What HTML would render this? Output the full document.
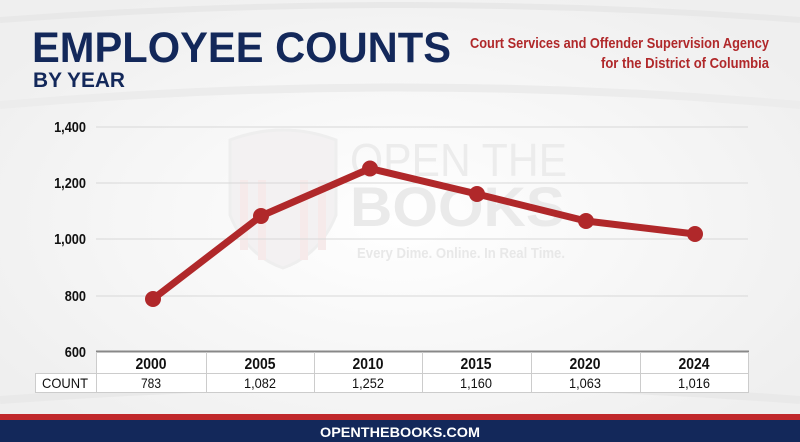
<!DOCTYPE html>
<html><head><meta charset="utf-8"><style>
html,body{margin:0;padding:0}
body{width:800px;height:442px;overflow:hidden;position:relative;background:#f6f6f6;font-family:"Liberation Sans",sans-serif}
.abs{position:absolute}
</style></head><body>
<svg class="abs" style="left:0;top:0" width="800" height="442" xmlns="http://www.w3.org/2000/svg">
<defs><radialGradient id="g" cx="50%" cy="50%" r="60%"><stop offset="0" stop-color="#ffffff"/><stop offset="1" stop-color="#efefef"/></radialGradient></defs>
<rect width="800" height="442" fill="url(#g)"/>
<path d="M0 20 Q400 -10 800 20" stroke="#e8e8e8" stroke-width="6" fill="none"/>
<path d="M0 105 Q400 70 800 105" stroke="#ececec" stroke-width="8" fill="none"/>
<path d="M0 400 Q400 370 800 400" stroke="#e9e9e9" stroke-width="8" fill="none"/>
<!-- watermark -->
<path d="M230 140 Q283 120 336 140 L336 215 Q320 255 283 268 Q246 255 230 215 Z" fill="#f3f1f2" stroke="#eeeeee" stroke-width="3"/>
<g fill="#f6eaea"><rect x="240" y="180" width="8" height="70"/><rect x="258" y="180" width="8" height="80"/><rect x="300" y="180" width="8" height="80"/><rect x="318" y="180" width="8" height="70"/></g>
<text x="350" y="176" font-family="Liberation Sans,sans-serif" font-size="46" fill="#ececec" textLength="217" lengthAdjust="spacingAndGlyphs">OPEN THE</text>
<text x="350" y="226" font-family="Liberation Sans,sans-serif" font-weight="bold" font-size="56" fill="#eaeaea" textLength="215" lengthAdjust="spacingAndGlyphs">BOOKS</text>
<text x="357" y="258" font-family="Liberation Sans,sans-serif" font-weight="bold" font-size="15" fill="#e8e8e8" textLength="208" lengthAdjust="spacingAndGlyphs">Every Dime. Online. In Real Time.</text>
<!-- grid -->
<g stroke="#d8d8d8" stroke-width="1">
<line x1="96" y1="127" x2="748" y2="127"/><line x1="96" y1="183" x2="748" y2="183"/><line x1="96" y1="239" x2="748" y2="239"/><line x1="96" y1="296" x2="748" y2="296"/>
</g>
<g font-family="Liberation Sans,sans-serif" font-weight="bold" font-size="15" fill="#111" text-anchor="end" transform="translate(86 0) scale(0.85 1) translate(-86 0)">
<text x="86" y="132">1,400</text><text x="86" y="188">1,200</text><text x="86" y="244">1,000</text><text x="86" y="301">800</text><text x="86" y="357">600</text>
</g>
<!-- table -->
<rect x="96" y="351" width="653" height="41" fill="#fff"/>
<rect x="35" y="373" width="61" height="19" fill="#fff"/>
<line x1="96" y1="351.5" x2="749" y2="351.5" stroke="#888" stroke-width="2"/>
<g stroke="#ccc" stroke-width="1" fill="none">
<line x1="35" y1="373.5" x2="749" y2="373.5"/><line x1="35" y1="392.5" x2="749" y2="392.5"/>
<line x1="35.5" y1="373" x2="35.5" y2="393"/><line x1="96.5" y1="352" x2="96.5" y2="393"/>
<line x1="206.5" y1="352" x2="206.5" y2="393"/><line x1="314.5" y1="352" x2="314.5" y2="393"/><line x1="422.5" y1="352" x2="422.5" y2="393"/><line x1="531.5" y1="352" x2="531.5" y2="393"/><line x1="640.5" y1="352" x2="640.5" y2="393"/><line x1="748.5" y1="352" x2="748.5" y2="393"/>
</g>
<g font-family="Liberation Sans,sans-serif" font-weight="bold" font-size="16" fill="#111" text-anchor="middle">
<text x="151" y="369" textLength="31" lengthAdjust="spacingAndGlyphs">2000</text><text x="260" y="369" textLength="31" lengthAdjust="spacingAndGlyphs">2005</text><text x="368" y="369" textLength="31" lengthAdjust="spacingAndGlyphs">2010</text><text x="476" y="369" textLength="31" lengthAdjust="spacingAndGlyphs">2015</text><text x="585" y="369" textLength="31" lengthAdjust="spacingAndGlyphs">2020</text><text x="694" y="369" textLength="31" lengthAdjust="spacingAndGlyphs">2024</text>
</g>
<g font-family="Liberation Sans,sans-serif" font-size="14" fill="#111" text-anchor="middle">
<text x="65" y="388" textLength="46" lengthAdjust="spacingAndGlyphs">COUNT</text>
<text x="151" y="388" textLength="20" lengthAdjust="spacingAndGlyphs">783</text><text x="260" y="388" textLength="32" lengthAdjust="spacingAndGlyphs">1,082</text><text x="368" y="388" textLength="32" lengthAdjust="spacingAndGlyphs">1,252</text><text x="476" y="388" textLength="32" lengthAdjust="spacingAndGlyphs">1,160</text><text x="585" y="388" textLength="32" lengthAdjust="spacingAndGlyphs">1,063</text><text x="694" y="388" textLength="32" lengthAdjust="spacingAndGlyphs">1,016</text>
</g>
<!-- series -->
<polyline points="153,299 261,216 370,168.5 477,194 586,221 695,234" fill="none" stroke="#b0282a" stroke-width="7" stroke-linejoin="round" stroke-linecap="round"/>
<g fill="#b0282a"><circle cx="153" cy="299" r="8"/><circle cx="261" cy="216" r="8"/><circle cx="370" cy="168.5" r="8"/><circle cx="477" cy="194" r="8"/><circle cx="586" cy="221" r="8"/><circle cx="695" cy="234" r="8"/></g>
<!-- footer -->
<rect x="0" y="414" width="800" height="7" fill="#c0282b"/>
<rect x="0" y="420" width="800" height="22" fill="#13285a"/>
<text x="400" y="437" text-anchor="middle" font-family="Liberation Sans,sans-serif" font-weight="bold" font-size="14" fill="#fff" textLength="160" lengthAdjust="spacingAndGlyphs">OPENTHEBOOKS.COM</text>
<!-- titles -->
<text x="32" y="62" font-family="Liberation Sans,sans-serif" font-weight="bold" font-size="43" fill="#13285a" textLength="419" lengthAdjust="spacingAndGlyphs">EMPLOYEE COUNTS</text>
<text x="33" y="87" font-family="Liberation Sans,sans-serif" font-weight="bold" font-size="21" fill="#13285a" textLength="92" lengthAdjust="spacingAndGlyphs">BY YEAR</text>
<g font-family="Liberation Sans,sans-serif" font-size="15" font-weight="bold" fill="#b0282a" text-anchor="end">
<text x="769" y="48" textLength="299" lengthAdjust="spacingAndGlyphs">Court Services and Offender Supervision Agency</text>
<text x="769" y="68" textLength="168" lengthAdjust="spacingAndGlyphs">for the District of Columbia</text>
</g>
</svg>
</body></html>
